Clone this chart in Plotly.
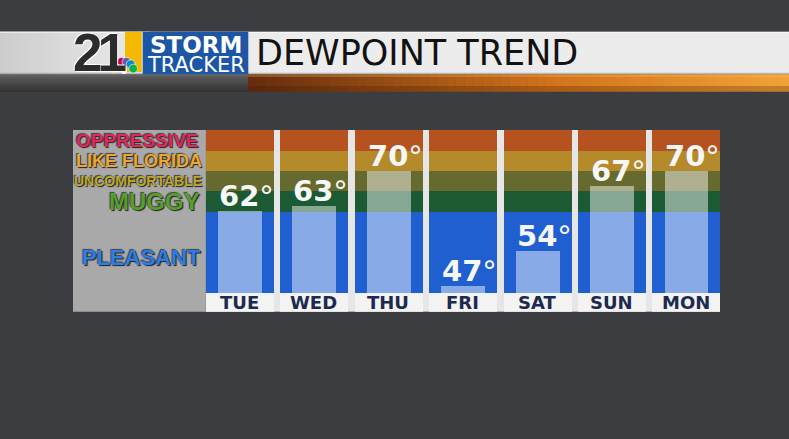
import plotly.graph_objects as go
import math

# ---------------- data ----------------
days = ["TUE", "WED", "THU", "FRI", "SAT", "SUN", "MON"]
dewpoints = [62, 63, 70, 47, 54, 67, 70]
band_labels = ["PLEASANT", "MUGGY", "UNCOMFORTABLE", "LIKE FLORIDA", "OPPRESSIVE"]
band_edges = [45.5, 61.8, 66.0, 70.1, 74.1, 78.3]
axis_floor = 41.8
title_text = "DEWPOINT TREND"
logo_number = "21"
logo_top = "STORM"
logo_bottom = "TRACKER"

# ---------------- styles ----------------
band_colors = ["#1f5fd0", "#1b5a33", "#666a2f", "#b48a2b", "#b5521f"]
label_colors = ["#2b7de8", "#55a02a", "#bca92c", "#efa62c", "#e4265e"]
label_sizes = [22, 24, 14, 18, 19]
label_fonts = ["Liberation Sans"] * 5
label_xpx = [141, 154, 137.5, 138.5, 137.5]
label_ymid = [52.6, 64.0, 68.1, 72.1, 76.2]

W, H = 789, 439
def px(x): return x / W
def py(y): return 1 - y / H

col_w = 0.914
bar_w = 0.59

fig = go.Figure()

# colour bands per day column
for i in range(len(band_labels)):
    lo, hi = band_edges[i], band_edges[i + 1]
    fig.add_bar(x=days, y=[hi - lo] * len(days), base=[lo] * len(days),
                width=col_w, marker=dict(color=band_colors[i], line=dict(width=0)),
                hoverinfo="skip")
# day label strip
fig.add_bar(x=days, y=[band_edges[0] - axis_floor] * len(days),
            base=[axis_floor] * len(days), width=col_w,
            marker=dict(color="#f3f3f3", line=dict(width=0)), hoverinfo="skip")
# dewpoint bars
fig.add_bar(x=days, y=[v - band_edges[0] for v in dewpoints],
            base=[band_edges[0]] * len(days), width=bar_w,
            marker=dict(color="rgba(255,255,255,0.47)", line=dict(width=0)),
            hoverinfo="skip")

shapes = []
def rect(x0, y0, x1, y1, color, layer="below"):
    shapes.append(dict(type="rect", xref="paper", yref="paper",
                       x0=px(x0), x1=px(x1), y0=py(y1), y1=py(y0),
                       fillcolor=color, line=dict(width=0), layer=layer))

def lerp(c1, c2, t):
    return tuple(int(round(a + (b - a) * t)) for a, b in zip(c1, c2))

def rgb(c):
    return "rgb(%d,%d,%d)" % c

# header white bar with gradient
rect(0, 31.7, W, 74.3, "rgb(236,236,236)")
n = 60
for k in range(n):
    x0 = 150 * k / n
    x1 = 150 * (k + 1) / n + 0.4
    t = (k + 0.5) / n
    c = lerp((204, 204, 204), (236, 236, 236), t)
    rect(x0, 31.7, x1, 74.3, rgb(c))
rect(0, 31.7, W, 33, "rgba(255,255,255,0.6)")
rect(0, 72.8, W, 74.3, "rgba(150,150,150,0.6)")

# strip under header: gray left, orange right
for k in range(10):
    y0 = 74.3 + k * 1.74
    c = lerp((98, 98, 98), (52, 52, 52), k / 9)
    rect(0, y0, 248, y0 + 1.8, rgb(c))
n = 60
for k in range(n):
    x0 = 248 + 541 * k / n
    x1 = 248 + 541 * (k + 1) / n + 0.4
    t = (k + 0.5) / n
    if t < 0.55:
        c = lerp((100, 44, 12), (208, 114, 26), t / 0.55)
    else:
        c = lerp((208, 114, 26), (242, 162, 56), (t - 0.55) / 0.45)
    rect(x0, 74.3, x1, 91.7, rgb(c))
rect(248, 74.3, W, 77, "rgba(255,200,120,0.25)")
rect(248, 86, W, 91.7, "rgba(60,20,0,0.25)")

# logo
rect(125, 32, 141.7, 72, "#f5b800")
rect(142.7, 31.7, 248.3, 74.3, "#1d56a4")
peacock = ["#f5c400", "#f37021", "#cc004c", "#6460aa", "#0089d0", "#0db14b"]
cx, cy = 124, 71
for j, col in enumerate(peacock):
    ang = math.radians(165 - j * 30)
    ex, ey = cx + 9.5 * math.cos(ang), cy - 9.5 * math.sin(ang)
    shapes.append(dict(type="circle", xref="paper", yref="paper",
                       x0=px(ex - 4.4), x1=px(ex + 4.4), y0=py(ey + 4.4), y1=py(ey - 4.4),
                       fillcolor=col, line=dict(width=0.6, color="white"), layer="above"))
shapes.append(dict(type="circle", xref="paper", yref="paper",
                   x0=px(cx - 3), x1=px(cx + 3), y0=py(cy + 3), y1=py(cy - 3),
                   fillcolor="white", line=dict(width=0), layer="above"))

# gray legend panel
rect(73, 130, 205.5, 311.7, "#a9a9a9")

annotations = []
# band labels
for i, lab in enumerate(band_labels):
    annotations.append(dict(
        text="<b>%s</b>" % lab, xref="paper", yref="y", x=px(label_xpx[i]),
        y=label_ymid[i], xanchor="center", yanchor="middle", showarrow=False,
        font=dict(family=label_fonts[i], size=label_sizes[i], color=label_colors[i],
                  shadow="1px 1px 1px #202020, -1px -1px 1px #404040")))

# dewpoint value labels
for d, v in zip(days, dewpoints):
    annotations.append(dict(
        text="<b>%d</b>°" % v, x=d, y=v, xref="x", yref="y",
        xanchor="center", yanchor="bottom", showarrow=False, xshift=7, yshift=-4,
        font=dict(family="DejaVu Sans", size=29, color="#f7f7f7")))

# day labels
for d in days:
    annotations.append(dict(
        text="<b>%s</b>" % d, x=d, y=(axis_floor + band_edges[0]) / 2,
        xref="x", yref="y", xanchor="center", yanchor="middle", showarrow=False,
        font=dict(family="DejaVu Sans", size=18, color="#1b2a4e")))

# header texts
annotations.append(dict(text="<b><span style='letter-spacing:-5px'>%s</span></b>" % logo_number,
                        xref="paper", yref="paper",
                        x=px(99), y=py(53), xanchor="center", yanchor="middle",
                        showarrow=False,
                        font=dict(family="Liberation Sans", size=53, color="#2c2c2c",
                                  shadow="1px 1px 0 #ffffff, -1px -1px 0 #ffffff")))
annotations.append(dict(text="<b>%s</b>" % logo_top, xref="paper", yref="paper",
                        x=px(195.5), y=py(45.5), xanchor="center", yanchor="middle",
                        showarrow=False,
                        font=dict(family="DejaVu Sans", size=23, color="white")))
annotations.append(dict(text=logo_bottom, xref="paper", yref="paper",
                        x=px(195.5), y=py(64.5), xanchor="center", yanchor="middle",
                        showarrow=False,
                        font=dict(family="DejaVu Sans", size=21, color="white")))
annotations.append(dict(text=title_text, xref="paper", yref="paper",
                        x=px(254), y=py(53), xanchor="left", yanchor="middle",
                        showarrow=False,
                        font=dict(family="DejaVu Sans", size=35, color="#121212")))

fig.update_layout(
    width=W, height=H, autosize=False,
    margin=dict(l=0, r=0, t=0, b=0),
    paper_bgcolor="#3c3d40", plot_bgcolor="#e6e6e6",
    barmode="overlay", bargap=0, showlegend=False,
    xaxis=dict(domain=[px(205.5), px(720)], range=[-0.457, 6.457], type="category",
               visible=False, fixedrange=True),
    yaxis=dict(domain=[py(311.7), py(130)], range=[axis_floor, band_edges[-1]],
               visible=False, fixedrange=True),
    shapes=shapes, annotations=annotations,
)

fig.write_html("out.html", config={"displayModeBar": False},
               post_script="document.body.style.margin='0';document.body.style.background='#3c3d40';")
